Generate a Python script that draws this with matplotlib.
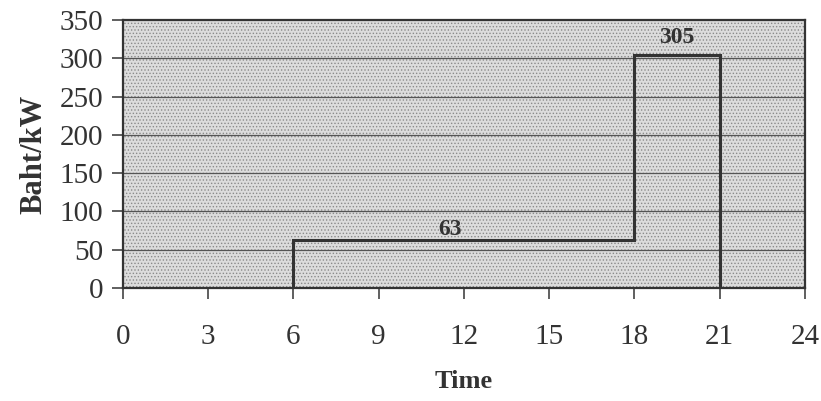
import numpy as np
import matplotlib
matplotlib.use('Agg')
import matplotlib.pyplot as plt

plt.rcParams['font.family'] = ['Liberation Serif', 'DejaVu Serif']
plt.rcParams['hatch.color'] = '#8a8a8a'
plt.rcParams['hatch.linewidth'] = 0.6

# tariff steps (hour, baht/kW)
hours = [6, 6, 18, 18, 21, 21]
rates = [0, 63, 63, 305, 305, 0]
labels = ['63', '305']
label_x = [11.5, 19.5]
label_y = [77, 327]
x_ticks = [0, 3, 6, 9, 12, 15, 18, 21, 24]
y_ticks = [0, 50, 100, 150, 200, 250, 300, 350]

fig = plt.figure(figsize=(8.21, 4.01), dpi=100)
ax = fig.add_axes([0.1498, 0.2818, 0.8307, 0.6682])

# dotted grey background like the scan
ax.set_facecolor('#dcdcdc')
ax.add_patch(plt.Rectangle((0, 0), 1, 1, transform=ax.transAxes,
                           facecolor='none', edgecolor='#8a8a8a',
                           hatch='.....', lw=0, zorder=0))

for y in y_ticks[1:-1]:
    ax.axhline(y, color='#555555', lw=0.9, zorder=1)

ax.plot(hours, rates, color='#333333', lw=2.2, zorder=3, solid_joinstyle='miter')

for t, x, y in zip(labels, label_x, label_y):
    ax.text(x, y, t, ha='center', va='center', fontsize=17,
            fontweight='bold', color='#333333', zorder=4)

ax.set_xlim(0, 24)
ax.set_ylim(0, 350)
ax.set_xticks(x_ticks)
ax.set_yticks(y_ticks)
ax.tick_params(axis='both', direction='out', length=8, width=1.2,
               color='#444444', labelsize=21, labelcolor='#333333')
ax.tick_params(axis='x', pad=18)
ax.tick_params(axis='y', pad=6)

for s in ax.spines.values():
    s.set_color('#333333')
    s.set_linewidth(1.6)

ax.set_xlabel('Time', fontsize=19, fontweight='bold', color='#333333', labelpad=14)
ax.set_ylabel('Baht/kW', fontsize=22, fontweight='bold', color='#333333', labelpad=8)

fig.savefig('out.png', dpi=100, facecolor='white')
